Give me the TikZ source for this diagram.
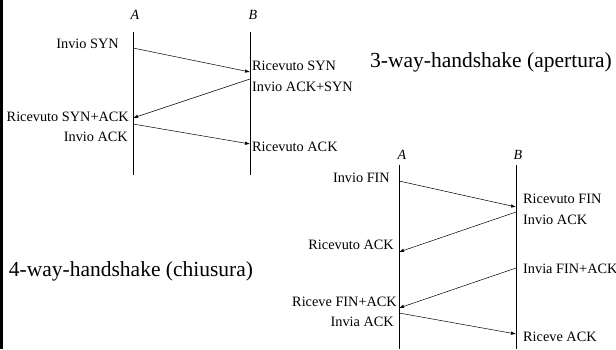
\documentclass[tikz,border=0pt]{standalone}
\usepackage{fontspec}
\setmainfont{Liberation Serif}
\usetikzlibrary{arrows.meta}

\tikzset{
  msg/.style={-{Latex[length=5pt,width=3.5pt]}, line width=0.5pt},
  lifeline/.style={line width=0.8pt},
  lbl/.style={font=\fontsize{14.3}{16}\selectfont, inner sep=0pt},
  party/.style={font=\fontsize{14}{16}\selectfont\itshape, inner sep=0pt},
  title/.style={font=\fontsize{21.5}{24}\selectfont, inner sep=0pt}
}

\begin{document}
\begin{tikzpicture}[x=1pt, y=-1pt]
    \useasboundingbox (0,0) rectangle (616,349);
    \draw[line width=3pt] (1.5,0) -- (1.5,349);

    % Opening - three messages
    \begin{scope}
      \node[party] (A1) at (135,15) {A};
      \node[party] (B1) at (253,15) {B};
      \coordinate (a1top) at (133,32); \coordinate (a1bot) at (133,175);
      \coordinate (b1top) at (250,32); \coordinate (b1bot) at (250,175);
      \draw[lifeline] (a1top) -- (a1bot);
      \draw[lifeline] (b1top) -- (b1bot);
      \coordinate (s1) at (133,48);  \coordinate (r1) at (250,72);
      \coordinate (s2) at (250,79);  \coordinate (r2) at (133,118);
      \coordinate (s3) at (133,124); \coordinate (r3) at (250,144);
      \draw[msg] (s1) -- (r1);
      \draw[msg] (s2) -- (r2);
      \draw[msg] (s3) -- (r3);
      \node[lbl, anchor=east] (synsend) at (119,44) {Invio SYN};
      \node[lbl, anchor=west] (synrecv) at (252,66) {Ricevuto SYN};
      \node[lbl, anchor=west] (synacksend) at (252,87) {Invio ACK+SYN};
      \node[lbl, anchor=east] (synackrecv) at (129,117) {Ricevuto SYN+ACK};
      \node[lbl, anchor=east] (acksend) at (128,137) {Invio ACK};
      \node[lbl, anchor=west] (ackrecv) at (252,147) {Ricevuto ACK};
      \node[title] (open) at (491,62) {3-way-handshake (apertura)};
    \end{scope}

    % Closing - four messages
    \begin{scope}
      \node[party] (A2) at (402,155) {A};
      \node[party] (B2) at (518,155) {B};
      \coordinate (a2top) at (399,165); \coordinate (a2bot) at (399,349);
      \coordinate (b2top) at (516,165); \coordinate (b2bot) at (516,349);
      \draw[lifeline] (a2top) -- (a2bot);
      \draw[lifeline] (b2top) -- (b2bot);
      \coordinate (t1) at (399,181); \coordinate (q1) at (516,207);
      \coordinate (t2) at (516,212); \coordinate (q2) at (399,252);
      \coordinate (t3) at (516,268); \coordinate (q3) at (399,308);
      \coordinate (t4) at (399,313); \coordinate (q4) at (516,334);
      \draw[msg] (t1) -- (q1);
      \draw[msg] (t2) -- (q2);
      \draw[msg] (t3) -- (q3);
      \draw[msg] (t4) -- (q4);
      \node[lbl, anchor=east] (finsend) at (390,178) {Invio FIN};
      \node[lbl, anchor=west] (finrecv) at (523,199) {Ricevuto FIN};
      \node[lbl, anchor=west] (acksend2) at (523,220) {Invio ACK};
      \node[lbl, anchor=east] (ackrecv2) at (394,245) {Ricevuto ACK};
      \node[lbl, anchor=west] (finacksend) at (523,269) {Invia FIN+ACK};
      \node[lbl, anchor=east] (finackrecv) at (397,302) {Riceve FIN+ACK};
      \node[lbl, anchor=east] (lastsend) at (394,322) {Invia ACK};
      \node[lbl, anchor=west] (lastrecv) at (523,337) {Riceve ACK};
      \node[title] (close) at (131,271) {4-way-handshake (chiusura)};
    \end{scope}
\end{tikzpicture}
\end{document}
